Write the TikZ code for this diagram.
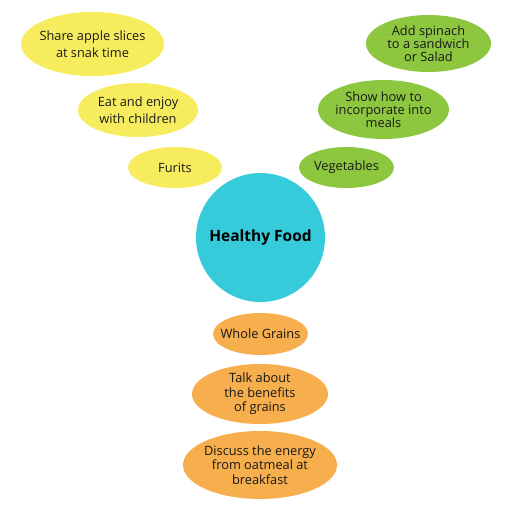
\documentclass[tikz,border=0pt]{standalone}
\usepackage{fontspec}
\setmainfont{Open Sans}
\usetikzlibrary{shapes.geometric}
\definecolor{yel}{RGB}{247,236,94}
\definecolor{grn}{RGB}{141,198,63}
\definecolor{cyn}{RGB}{53,203,218}
\definecolor{org}{RGB}{247,174,76}
\tikzset{
  bub/.style={ellipse, inner sep=0pt},
  txt/.style={inner sep=0pt, align=center, text=black!90,
    font=\fontsize{12.8}{14.5}\selectfont},
  txtw/.style={txt, font=\fontsize{12.8}{17}\selectfont},
  txtn/.style={txt, font=\fontsize{12.8}{13.3}\selectfont},
}
\begin{document}
\begin{tikzpicture}[x=1pt,y=-1pt]
\useasboundingbox (0,0) rectangle (512,512);
\fill[white] (0,0) rectangle (512,512);
% yellow
\node[bub, fill=yel, minimum width=143pt, minimum height=64pt, label={[txtw]center:{Share apple slices\\at snak time}}] (y1) at (92.5,44) {};
\node[bub, fill=yel, minimum width=120pt, minimum height=54pt, label={[txtw]center:{Eat and enjoy\\with children}}] (y2) at (138,110) {};
\node[bub, fill=yel, minimum width=94pt, minimum height=41pt, label={[txt]center:{Furits}}] (y3) at (175,167.5) {};
% green
\node[bub, fill=grn, minimum width=125pt, minimum height=57pt, label={[txtn]center:{Add spinach\\to a sandwich\\or Salad}}] (g1) at (428.5,43.5) {};
\node[bub, fill=grn, minimum width=131pt, minimum height=59pt, label={[txtn]center:{Show how to\\incorporate into\\meals}}] (g2) at (383.5,109.5) {};
\node[bub, fill=grn, minimum width=95pt, minimum height=41pt, label={[txt]center:{Vegetables}}] (g3) at (346.5,167.5) {};
% center
\node[circle, fill=cyn, minimum size=129pt, inner sep=0pt, font=\bfseries\fontsize{15.5}{18}\selectfont] (c) at (260.5,237.5) {Healthy Food};
% orange
\node[bub, fill=org, minimum width=95pt, minimum height=42pt, label={[txt]center:{Whole Grains}}] (o1) at (260.5,334) {};
\node[bub, fill=org, minimum width=136pt, minimum height=60pt, label={[txt]center:{Talk about\\the benefits\\of grains}}] (o2) at (260,394) {};
\node[bub, fill=org, minimum width=154pt, minimum height=68pt, label={[txt]center:{Discuss the energy\\from oatmeal at\\breakfast}}] (o3) at (260,465) {};
\end{tikzpicture}
\end{document}
